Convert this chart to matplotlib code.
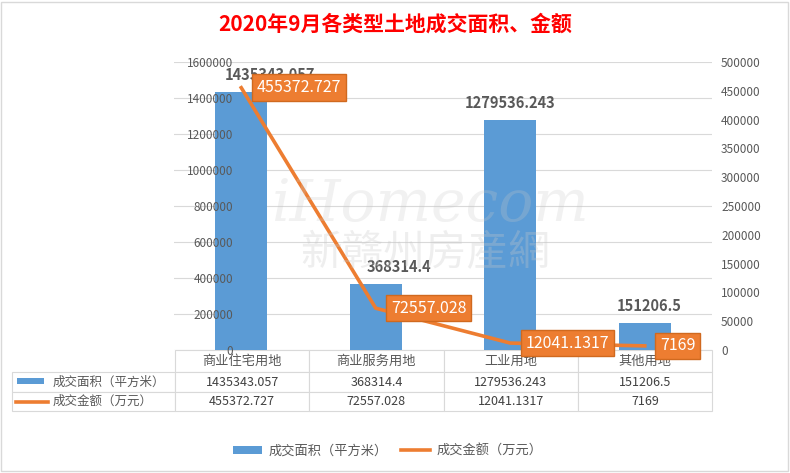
import matplotlib
matplotlib.use("Agg")
import matplotlib.pyplot as plt
from matplotlib.patches import Patch, Rectangle
from matplotlib.lines import Line2D
from matplotlib.ticker import FuncFormatter

plt.rcParams['font.family'] = ['Noto Sans CJK SC', 'DejaVu Sans']

# data
categories = ['商业住宅用地', '商业服务用地', '工业用地', '其他用地']
area = [1435343.057, 368314.4, 1279536.243, 151206.5]      # 成交面积（平方米）
amount = [455372.727, 72557.028, 12041.1317, 7169]         # 成交金额（万元）
area_name = '成交面积（平方米）'
amount_name = '成交金额（万元）'
title = '2020年9月各类型土地成交面积、金额'

blue = '#5B9BD5'
orange = '#ED7D31'
grey_txt = '#595959'
grid_c = '#D9D9D9'


def fmt(v):
    return ('%f' % v).rstrip('0').rstrip('.')


W, H = 790, 473
fig = plt.figure(figsize=(W / 100, H / 100), dpi=100)

# outer frame
fig.patches.append(Rectangle((1 / W, 2 / H), 1 - 3 / W, 1 - 4 / H, transform=fig.transFigure,
                             fill=False, edgecolor=grid_c, linewidth=1))

fig.text(395 / W, 1 - 24 / H, title, color='#FF0000', fontsize=15, fontweight='bold',
         ha='center', va='center')

# data table (added first so the axis "0" labels are drawn over it)
tab_ax = fig.add_axes([12 / W, 1 - 411 / H, (712 - 12) / W, (411 - 350) / H])
tab_ax.axis('off')
cell_text = [[''] + categories,
             [''] + [fmt(v) for v in area],
             [''] + [fmt(v) for v in amount]]
first_w = 163 / 700
col_w = (1 - first_w) / 4
tbl = tab_ax.table(cellText=cell_text, colWidths=[first_w] + [col_w] * 4,
                   cellLoc='center', bbox=[0, 0, 1, 1])
tbl.auto_set_font_size(False)
row_h = [22 / 61, 20 / 61, 19 / 61]
for (r, c), cell in tbl.get_celld().items():
    cell.set_edgecolor(grid_c)
    cell.set_linewidth(0.8)
    cell.set_height(row_h[r])
    cell.get_text().set_fontsize(9.5 if r == 0 else 9)
    cell.get_text().set_color(grey_txt if r == 0 else '#404040')
    if r == 0 and c == 0:
        cell.visible_edges = ''

ax = fig.add_axes([174 / W, 1 - 350 / H, (712 - 174) / W, (350 - 62) / H])
ax.patch.set_visible(False)
x = list(range(len(categories)))
left_ticks = list(range(0, 1600001, 200000))
# gridlines drawn by hand so the tick labels can sit on top of the bars
for t in left_ticks:
    ax.axhline(t, color=grid_c, linewidth=0.8, zorder=0)
bars = ax.bar(x, area, width=0.39, color=blue, zorder=2)
ax.set_axisbelow(False)
ax.set_xlim(-0.5, len(categories) - 0.5)
ax.set_ylim(0, 1600000)
ax.set_yticks(left_ticks)
ax.yaxis.set_major_formatter(FuncFormatter(lambda v, p: '%d' % v))
ax.tick_params(axis='y', length=0, pad=-42.5, labelsize=8.5, labelcolor=grey_txt)
ax.set_xticks([])
for s in ax.spines.values():
    s.set_visible(False)

# bar value labels (Excel put the first two a bit to the right)
bar_lbl_dx = [21, 17, 0, 3]
for xi, v, dx in zip(x, area, bar_lbl_dx):
    ax.annotate(fmt(v), (xi, v), xytext=(dx, 12), textcoords='offset points',
                ha='center', va='center', fontsize=10.5, fontweight='bold',
                color=grey_txt, zorder=3)

ax2 = ax.twinx()
ax2.set_ylim(0, 500000)
ax2.set_yticks(range(0, 500001, 50000))
ax2.yaxis.set_major_formatter(FuncFormatter(lambda v, p: '%d' % v))
ax2.tick_params(axis='y', length=0, pad=6.5, labelsize=8.5, labelcolor=grey_txt)
for s in ax2.spines.values():
    s.set_visible(False)
ax2.plot(x, amount, color=orange, linewidth=2.6, zorder=4)
for xi, v in zip(x, amount):
    ax2.annotate(fmt(v), (xi, v), xytext=(11, 0), textcoords='offset points',
                 ha='left', va='center', fontsize=11.5, color='white', zorder=5,
                 bbox=dict(boxstyle='square,pad=0.3', facecolor=orange,
                           edgecolor='#D0691F', linewidth=1))

# watermark
fig.text(430 / W, 1 - 205 / H, 'iHomecom', fontsize=42, style='italic', family='DejaVu Serif',
         color='#C8C8C8', alpha=0.25, ha='center', va='center')
fig.text(425 / W, 1 - 254 / H, '新赣州房産網', fontsize=30, color='#C8C8C8', alpha=0.3,
         ha='center', va='center')

# row labels with their legend keys
fig.text(53 / W, 1 - 382 / H, area_name, fontsize=9, color=grey_txt, ha='left', va='center')
fig.text(53 / W, 1 - 401.5 / H, amount_name, fontsize=9, color=grey_txt, ha='left', va='center')
fig.patches.append(Rectangle((17 / W, 1 - 384 / H), 27 / W, 6 / H, transform=fig.transFigure,
                             facecolor=blue, edgecolor='none'))
fig.lines.append(Line2D([16 / W, 48 / W], [1 - 402 / H, 1 - 402 / H], transform=fig.transFigure,
                        color=orange, linewidth=2.6))

handles = [Patch(facecolor=blue, label=area_name),
           Line2D([0], [0], color=orange, linewidth=2.6, label=amount_name)]
fig.legend(handles=handles, loc='center', bbox_to_anchor=(388 / W, 1 - 451 / H), ncol=2,
           frameon=False, fontsize=9.5, labelcolor=grey_txt, handlelength=2.2,
           handleheight=0.5, columnspacing=1.0, handletextpad=0.5)

fig.savefig('out.png', dpi=100)
